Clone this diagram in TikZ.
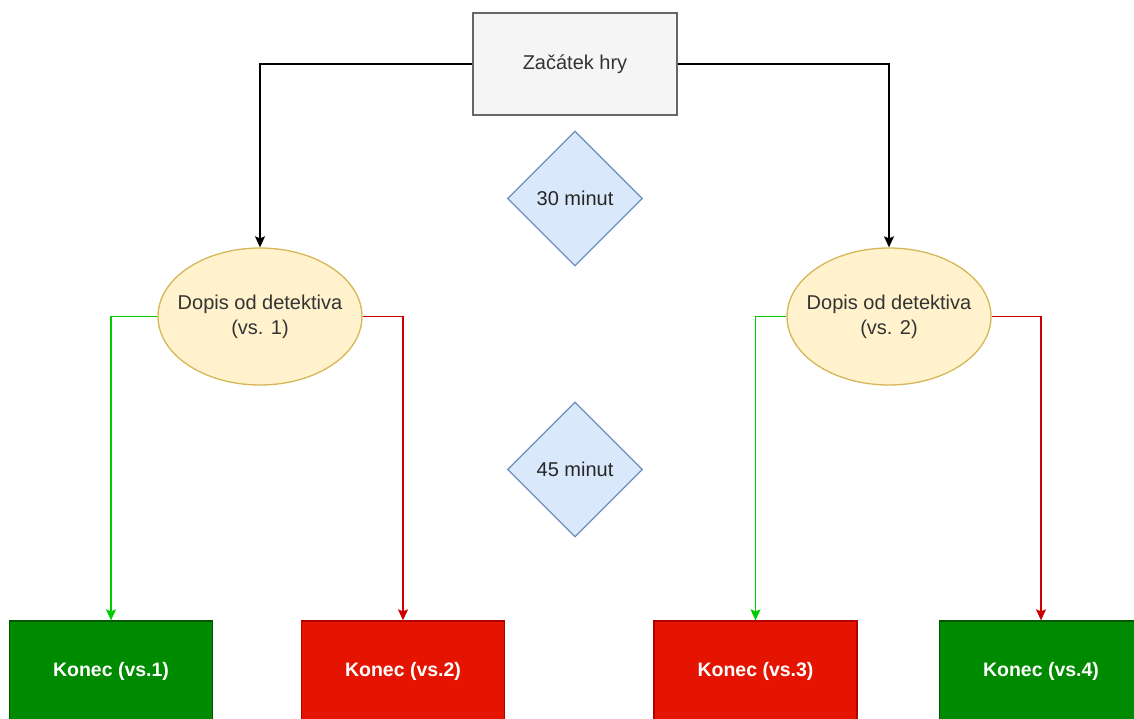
\documentclass[tikz,border=0pt]{standalone}
\usepackage{fontspec}
\setmainfont{Liberation Sans}
\usetikzlibrary{shapes.geometric,arrows.meta}
\definecolor{startfill}{HTML}{F5F5F5}
\definecolor{startline}{HTML}{666666}
\definecolor{starttext}{HTML}{333333}
\definecolor{ellfill}{HTML}{FFF2CC}
\definecolor{ellline}{HTML}{D6B656}
\definecolor{diafill}{HTML}{DAE8FC}
\definecolor{dialine}{HTML}{6C8EBF}
\definecolor{gfill}{HTML}{008A00}
\definecolor{gline}{HTML}{005700}
\definecolor{rfill}{HTML}{E51400}
\definecolor{rline}{HTML}{B20000}
\definecolor{garrow}{HTML}{00CC00}
\definecolor{rarrow}{HTML}{CC0000}
\newcommand{\ztext}[1]{\makebox[0pt][c]{\begin{tabular}{@{}c@{}}#1\end{tabular}}}
\tikzset{
  base/.style={font=\fontsize{20}{25}\selectfont, align=center, inner sep=0pt, line width=1.3pt},
  startbox/.style={base, rectangle, draw=startline, fill=startfill, text=starttext, minimum width=204pt, minimum height=102pt},
  ellnode/.style={base, ellipse, draw=ellline, fill=ellfill, text=black!80, minimum width=204pt, minimum height=137pt},
  dianode/.style={base, diamond, draw=dialine, fill=diafill, text=black!85, minimum width=135pt, minimum height=135pt},
  gbox/.style={base, rectangle, draw=gline, fill=gfill, text=white, font=\fontsize{19.5}{24}\selectfont\bfseries, minimum width=203pt, minimum height=100pt},
  rbox/.style={base, rectangle, draw=rline, fill=rfill, text=white, font=\fontsize{19.5}{24}\selectfont\bfseries, minimum width=203pt, minimum height=100pt},
  conn/.style={line width=1.3pt, -{Stealth[length=11pt,width=10pt,inset=2pt]}},
}
\begin{document}
\begin{tikzpicture}[x=1pt,y=-1pt]
\useasboundingbox (0,0) rectangle (1134,718);
\clip (0,0) rectangle (1134,718);
\node[startbox] (start) at (575,64) {Začátek hry};
\node[ellnode] (e1) at (260,316.5) {\ztext{Dopis od detektiva\\(vs. 1)}};
\node[ellnode] (e2) at (889,316.5) {\ztext{Dopis od detektiva\\(vs. 2)}};
\node[dianode] (d1) at (575,198.5) {\makebox[0pt][c]{30 minut}};
\node[dianode] (d2) at (575,469.5) {\makebox[0pt][c]{45 minut}};
\node[gbox] (k1) at (111,671) {Konec (vs.1)};
\node[rbox] (k2) at (403,671) {Konec (vs.2)};
\node[rbox] (k3) at (755.5,671) {Konec (vs.3)};
\node[gbox] (k4) at (1041,671) {Konec (vs.4)};
\draw[conn, black] (start.west) -| (e1.north);
\draw[conn, black] (start.east) -| (e2.north);
\draw[conn, garrow] (e1.west) -| (k1.north);
\draw[conn, rarrow] (e1.east) -| (k2.north);
\draw[conn, garrow] (e2.west) -| (k3.north);
\draw[conn, rarrow] (e2.east) -| (k4.north);
\end{tikzpicture}
\end{document}
